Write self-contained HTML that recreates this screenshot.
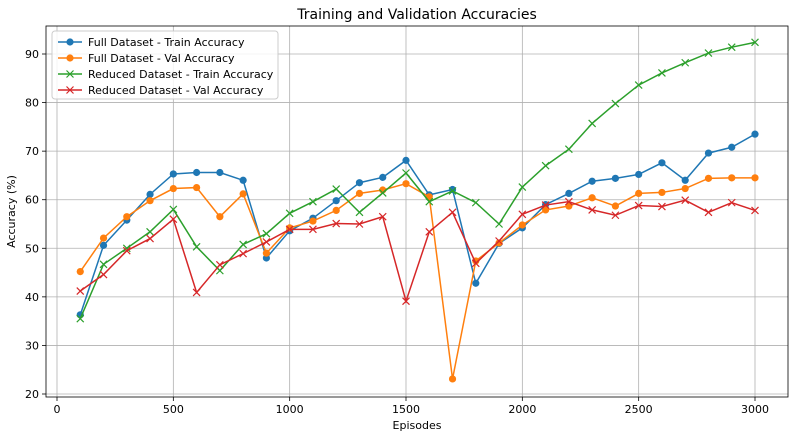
<!DOCTYPE html>
<html><head><meta charset="utf-8"><style>
body{margin:0;background:#fff;font-family:"Liberation Sans","DejaVu Sans",sans-serif}
svg text{font-family:"DejaVu Sans","Liberation Sans",sans-serif}
</style></head><body>
<svg id="chart" width="796" height="437" xmlns="http://www.w3.org/2000/svg"></svg>
<script>
const episodes=[100,200,300,400,500,600,700,800,900,1000,1100,1200,1300,1400,1500,1600,1700,1800,1900,2000,2100,2200,2300,2400,2500,2600,2700,2800,2900,3000];
const fullTrain=[36.3,50.6,55.8,61.1,65.3,65.6,65.6,64.0,48.0,53.6,56.2,59.8,63.5,64.6,68.1,61.0,62.1,42.8,51.0,54.2,59.0,61.3,63.8,64.4,65.2,67.6,64.0,69.6,70.8,73.5];
const fullVal=[45.2,52.1,56.5,59.8,62.3,62.5,56.5,61.2,49.0,54.2,55.6,57.8,61.3,62.0,63.3,60.6,23.1,47.4,51.1,54.8,57.9,58.7,60.4,58.7,61.3,61.5,62.3,64.4,64.5,64.5];
const redTrain=[35.5,46.7,50.0,53.4,58.0,50.3,45.4,50.8,53.0,57.2,59.6,62.2,57.4,61.4,65.5,59.6,61.8,59.4,55.0,62.6,67.0,70.4,75.7,79.8,83.6,86.1,88.2,90.2,91.4,92.4];
const redVal=[41.2,44.6,49.5,52.0,56.0,40.9,46.6,48.9,51.3,53.9,53.9,55.1,55.0,56.5,39.1,53.4,57.4,46.9,51.5,57.0,58.9,59.6,57.9,56.8,58.8,58.6,59.9,57.4,59.4,57.8];
const xTicks=[0,500,1000,1500,2000,2500,3000];
const yTicks=[20,30,40,50,60,70,80,90];
const seriesNames=["Full Dataset - Train Accuracy","Full Dataset - Val Accuracy","Reduced Dataset - Train Accuracy","Reduced Dataset - Val Accuracy"];

const NS="http://www.w3.org/2000/svg",svg=document.getElementById('chart');
const L=46,R=788,T=26,B=397;
const xs=v=>57+v*(755-57)/3000;
const ys=v=>394-(v-20)*(394-54)/70;
function mk(tag,attrs,parent){const e=document.createElementNS(NS,tag);for(const k in attrs)e.setAttribute(k,attrs[k]);(parent||svg).appendChild(e);return e;}

let t=mk('text',{x:(L+R)/2,y:19,'text-anchor':'middle','font-size':14,fill:'#000'});t.textContent='Training and Validation Accuracies';



const grid=mk('g',{});


xTicks.forEach(v=>{const x=xs(v);mk('line',{x1:x,x2:x,y1:T,y2:B,stroke:'#b0b0b0','stroke-width':0.8},grid);
 mk('line',{x1:x,x2:x,y1:B,y2:B+4,stroke:'#000','stroke-width':0.8});
 const tx=mk('text',{x:x,y:B+16,'text-anchor':'middle','font-size':11});tx.textContent=v;
 
 });
yTicks.forEach(v=>{const y=ys(v);mk('line',{x1:L,x2:R,y1:y,y2:y,stroke:'#b0b0b0','stroke-width':0.8},grid);
 mk('line',{x1:L-4,x2:L,y1:y,y2:y,stroke:'#000','stroke-width':0.8});
 const ty=mk('text',{x:L-7,y:y+4,'text-anchor':'end','font-size':11});ty.textContent=v;
 
 });
const fr=mk('rect',{x:L,y:T,width:R-L,height:B-T,fill:'none',stroke:'#000','stroke-width':0.8});


let xl=mk('text',{x:(L+R)/2,y:429,'text-anchor':'middle','font-size':11});xl.textContent='Episodes';


let yl=mk('text',{x:0,y:0,'text-anchor':'middle','font-size':11,transform:`translate(15,${(T+B)/2}) rotate(-90)`});yl.textContent='Accuracy (%)';



const colors=['#1f77b4','#ff7f0e','#2ca02c','#d62728'];
const markers=['o','o','x','x'];
const data=[fullTrain,fullVal,redTrain,redVal];
function marker(g,m,x,y,c){if(m==='o')mk('circle',{cx:x,cy:y,r:3.6,fill:c},g);
 else{mk('path',{d:`M${x-3.5},${y-3.5}L${x+3.5},${y+3.5}M${x-3.5},${y+3.5}L${x+3.5},${y-3.5}`,stroke:c,'stroke-width':1.2},g);}}
data.forEach((vals,i)=>{const g=mk('g',{});
 
 
 mk('polyline',{points:vals.map((v,j)=>xs(episodes[j])+','+ys(v)).join(' '),fill:'none',stroke:colors[i],'stroke-width':1.5},g);
 vals.forEach((v,j)=>marker(g,markers[i],xs(episodes[j]),ys(v),colors[i]));});

const lg=mk('g',{});


mk('rect',{x:52,y:31,width:226,height:68,rx:3,fill:'#fff','fill-opacity':0.85,stroke:'#ccc'},lg);
seriesNames.forEach((n,i)=>{const y=42+i*16;const e=mk('g',{},lg);
 
 
 mk('line',{x1:58,x2:82,y1:y,y2:y,stroke:colors[i],'stroke-width':1.5},e);marker(e,markers[i],70,y,colors[i]);
 const tt=mk('text',{x:88,y:y+4,'font-size':11},e);tt.textContent=n;});
</script>
</body></html>
